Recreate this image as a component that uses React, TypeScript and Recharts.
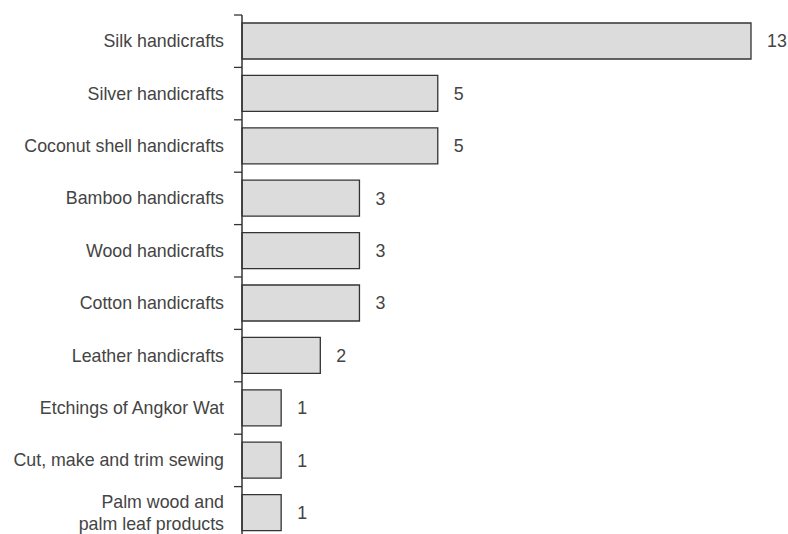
import React from "react";
import { BarChart, Bar, XAxis, YAxis, LabelList } from "recharts";

const categories = [
  "Silk handicrafts",
  "Silver handicrafts",
  "Coconut shell handicrafts",
  "Bamboo handicrafts",
  "Wood handicrafts",
  "Cotton handicrafts",
  "Leather handicrafts",
  "Etchings of Angkor Wat",
  "Cut, make and trim sewing",
  "Palm wood and\npalm leaf products",
];
const values = [13, 5, 5, 3, 3, 3, 2, 1, 1, 1];

const data = categories.map((name, i) => ({ name, value: values[i] }));

const CHART_W = 788;
const CHART_H = 539;
const MARGIN = { top: 15, right: 37, bottom: 0, left: 0 };
const BAND = (CHART_H - MARGIN.top - MARGIN.bottom) / categories.length;
const FONT = "'Liberation Sans', Arial, sans-serif";
const TEXT_COLOR = "#444";
const FONT_SIZE = 17.8;

const CategoryTick = (props: any) => {
  const { x, y, payload } = props;
  const lines: string[] = String(payload.value).split("\n");
  const lh = 22;
  const axisX = x + 18;
  const firstDy = -((lines.length - 1) / 2) * lh + 6;
  return (
    <g>
      <line x1={axisX - 8} x2={axisX} y1={y - BAND / 2} y2={y - BAND / 2} stroke="#333" strokeWidth={1.3} />
      <text x={x} y={y} textAnchor="end" fill={TEXT_COLOR} fontSize={FONT_SIZE} fontFamily={FONT}>
        {lines.map((l, i) => (
          <tspan key={i} x={x} dy={i === 0 ? firstDy : lh}>
            {l}
          </tspan>
        ))}
      </text>
    </g>
  );
};

export default function App() {
  return (
    <div style={{ position: "absolute", left: 0, top: 0, width: 788, height: 534, overflow: "hidden", background: "#fff" }}>
      <BarChart width={CHART_W} height={CHART_H} data={data} layout="vertical" margin={MARGIN}>
        <XAxis type="number" domain={[0, 13]} hide />
        <YAxis
          type="category"
          dataKey="name"
          width={242}
          axisLine={{ stroke: "#333", strokeWidth: 1.5 }}
          tickLine={false}
          tickSize={8}
          tickMargin={10}
          tick={<CategoryTick />}
          interval={0}
        />
        <Bar dataKey="value" fill="#dcdcdd" stroke="#333" strokeWidth={1.3} barSize={36} isAnimationActive={false}>
          <LabelList dataKey="value" position="right" offset={16} fill={TEXT_COLOR} fontSize={FONT_SIZE} fontFamily={FONT} />
        </Bar>
      </BarChart>
    </div>
  );
}
